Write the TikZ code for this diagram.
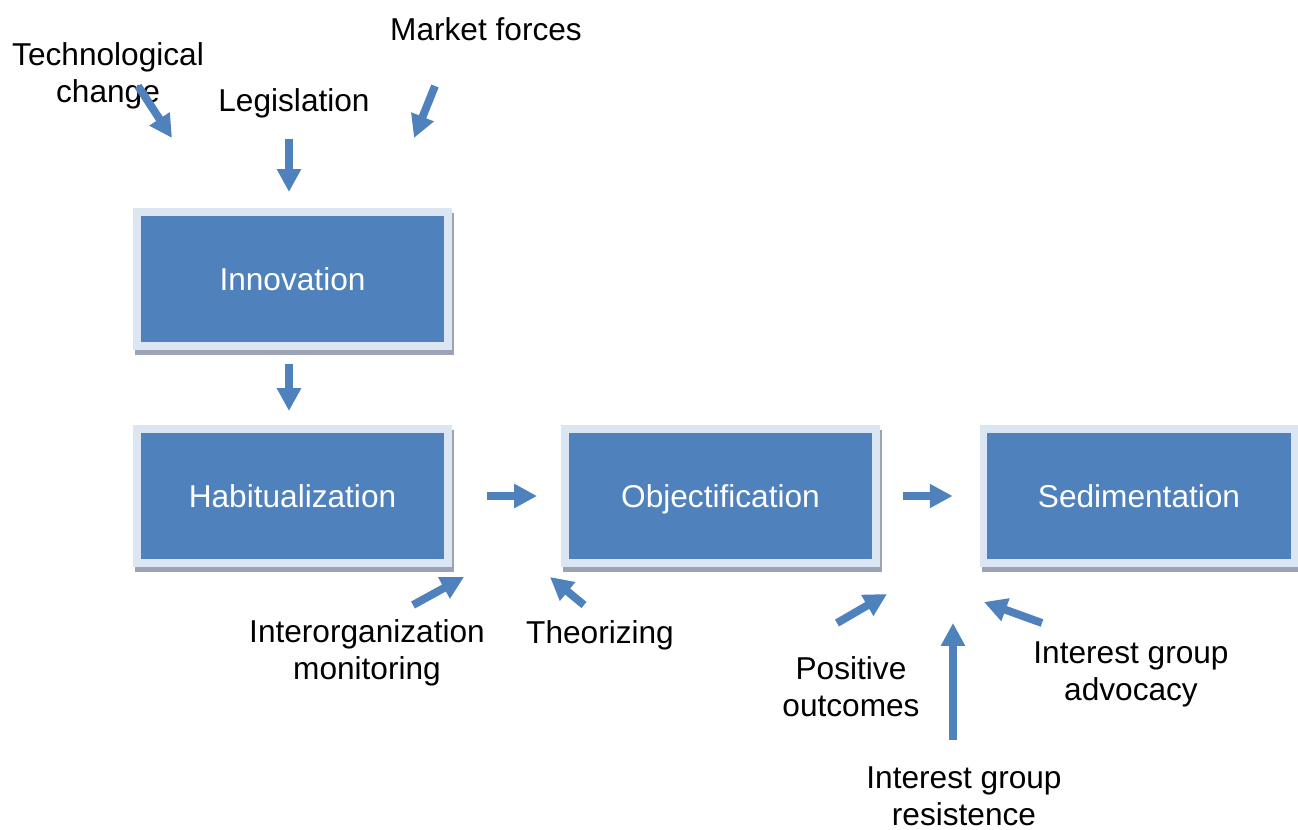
\documentclass[tikz,border=0pt]{standalone}
\usepackage{fontspec}
\setmainfont{Liberation Sans}
\usetikzlibrary{arrows.meta,shadows}

\definecolor{boxblue}{RGB}{79,129,189}
\definecolor{boxrim}{RGB}{220,230,242}
\definecolor{boxshade}{RGB}{155,163,181}

\begin{document}
\begin{tikzpicture}[
            x=0.02cm, y=-0.02cm,
            stage/.style={rectangle, fill=boxblue, draw=boxrim, line width=4.5pt,
                minimum width=6.22cm, minimum height=2.68cm, text=white,
                text height=13pt, text depth=0pt,
                font=\fontsize{18pt}{21pt}\selectfont,
                drop shadow={shadow xshift=0.04cm, shadow yshift=-0.1cm,
                    fill=boxshade, draw=boxshade, line width=4.5pt, opacity=1}},
            factor/.style={align=center, inner sep=0pt, font=\fontsize{18pt}{21pt}\selectfont},
            push/.style={draw=boxblue, line width=4.5pt, -{Triangle[length=13pt, width=13pt]}}
        ]
            \useasboundingbox (0, 0) rectangle (1298, 829);

            \node[stage] (innov) at (292.5, 279) {Innovation};
            \node[stage] (habit) at (292.5, 496) {Habitualization};
            \node[stage] (objec) at (720.5, 496) {Objectification};
            \node[stage] (sedim) at (1139, 496) {Sedimentation};

            \node[factor] (techno) at (108, 76) {Technological\\change};
            \node[factor] (legis) at (294, 103) {Legislation};
            \node[factor] (market) at (486, 29) {Market forces};
            \node[factor] (interorg) at (367, 653) {Interorganization\\monitoring};
            \node[factor] (theor) at (600, 635) {Theorizing};
            \node[factor] (posit) at (851, 687) {Positive\\outcomes};
            \node[factor] (advoc) at (1131, 674) {Interest group\\advocacy};
            \node[factor] (resist) at (964, 796) {Interest group\\resistence};

            % free ends of the influence arrows
            \coordinate (techno-a) at (138, 86);   \coordinate (techno-b) at (172, 138);
            \coordinate (legis-a) at (289, 139);   \coordinate (legis-b) at (289, 192);
            \coordinate (market-a) at (435, 86);   \coordinate (market-b) at (414, 138);
            \coordinate (interorg-a) at (413, 605); \coordinate (interorg-b) at (464, 577);
            \coordinate (theor-a) at (584, 605);   \coordinate (theor-b) at (550, 577);
            \coordinate (posit-a) at (837, 623);   \coordinate (posit-b) at (887, 594);
            \coordinate (resist-a) at (953, 740);  \coordinate (resist-b) at (953, 623);
            \coordinate (advoc-a) at (1042, 623);  \coordinate (advoc-b) at (984, 602);

            \draw[push] (techno-a) -- (techno-b);
            \draw[push] (legis-a) -- (legis-b);
            \draw[push] (market-a) -- (market-b);
            \draw[push] (interorg-a) -- (interorg-b);
            \draw[push] (theor-a) -- (theor-b);
            \draw[push] (posit-a) -- (posit-b);
            \draw[push] (resist-a) -- (resist-b);
            \draw[push] (advoc-a) -- (advoc-b);

            \draw[push, shorten <=0.28cm, shorten >=0.28cm] ([xshift=-0.07cm]innov.south) -- ([xshift=-0.07cm]habit.north);
            \draw[push, shorten <=0.7cm, shorten >=0.48cm] (habit) -- (objec);
            \draw[push, shorten <=0.46cm, shorten >=0.54cm] (objec) -- (sedim);
        \end{tikzpicture}
\end{document}
